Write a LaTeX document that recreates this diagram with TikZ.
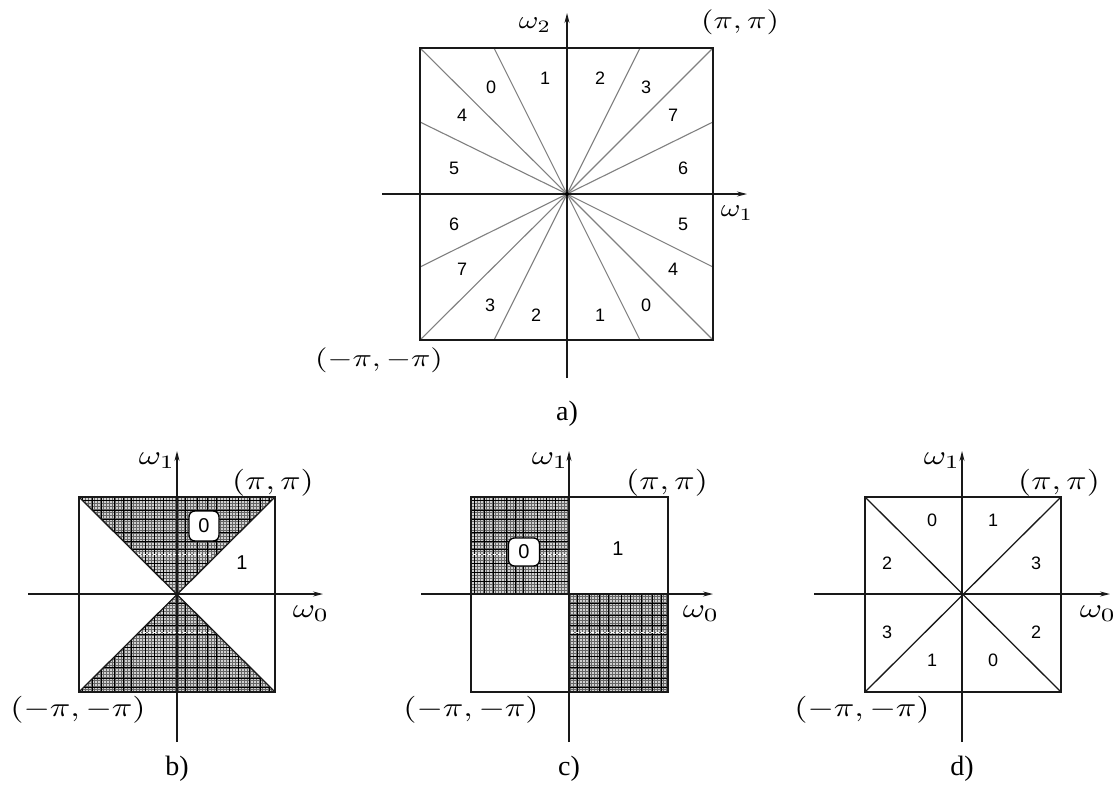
\documentclass[tikz,border=0pt]{standalone}
\usepackage{fontspec}
\setmainfont{Liberation Serif}
\newfontfamily\digfont{Liberation Sans}
\usetikzlibrary{arrows.meta}
\newcommand{\mlab}[3]{\scalebox{#1}[#2]{$#3$}}
\newcommand{\hatchfill}[3]{%
  \begin{scope}
    \clip #1;
    \fill[black!18] (#2,#3) rectangle ++(200,200);
    \foreach \hk in {0,3,...,198}{
      \draw[hatchfine] ({#2+\hk},#3) -- ++(0,200);
      \draw[hatchfine] (#2,{#3+\hk}) -- ++(200,0);
    }
    \foreach \hk in {3,13,22,35,44,52,66,75,84,97,106,118,128,137,150,159,170,181,190}{
      \draw[hatchbold] ({#2+\hk},#3) -- ++(0,200);
      \draw[hatchbold] (#2,{#3+\hk}) -- ++(200,0);
    }
  \end{scope}}
\tikzset{
  hatchfine/.style={draw=black!60,line width=0.55pt},
  hatchbold/.style={draw=black,line width=0.9pt},
  frame/.style={line width=1.5pt,draw=black!90},
  axis/.style={line width=1.3pt,draw=black!90,-{Stealth[length=10pt,width=5pt]}},
  ray/.style={line width=1.1pt,draw=black!50},
  diag/.style={line width=1.3pt,draw=black!90},
  dlab/.style={font=\digfont\fontsize{18}{20}\selectfont,inner sep=0pt},
  dlabb/.style={font=\digfont\fontsize{20}{22}\selectfont,inner sep=0pt},
  mlabel/.style={inner sep=0pt},
  plab/.style={font=\fontsize{28}{30}\selectfont,inner sep=0pt},
  zbox/.style={draw=black,line width=1.3pt,fill=white,rounded corners=6pt,
    minimum width=30pt,minimum height=30pt,inner sep=0pt,font=\digfont\fontsize{20}{22}\selectfont},
  artifact/.style={white,line width=1pt,dash pattern=on 3pt off 2pt}
}
\begin{document}
\begin{tikzpicture}[x=1pt,y=-1pt]
\useasboundingbox (0,0) rectangle (1118,787);
\fill[white] (0,0) rectangle (1118,787);

% ================= panel a =================
\coordinate (aO) at (567,194);
\coordinate (aTL) at (420,48);
\coordinate (aTR) at (713,48);
\coordinate (aBR) at (713,340);
\coordinate (aBL) at (420,340);
\coordinate (aT1) at (494,48);
\coordinate (aT2) at (640,48);
\coordinate (aB1) at (494,340);
\coordinate (aB2) at (640,340);
\coordinate (aL1) at (420,122);
\coordinate (aL2) at (420,267);
\coordinate (aR1) at (713,122);
\coordinate (aR2) at (713,267);
\foreach \p in {aTL,aTR,aBR,aBL,aT1,aT2,aB1,aB2,aL1,aL2,aR1,aR2}
  \draw[ray] (aO) -- (\p);
\draw[frame] (aTL) -- (aTR) -- (aBR) -- (aBL) -- cycle;
\coordinate (aXl) at (382,194);
\coordinate (aXr) at (747,194);
\coordinate (aYb) at (567,378);
\coordinate (aYt) at (567,13);
\draw[axis] (aXl) -- (aXr);
\draw[axis] (aYb) -- (aYt);
\fill[black] (aO) circle (2pt);

\node[mlabel] (aw2) at (535,25) {\mlab{3.0}{2.5}{\omega_2}};
\node[mlabel] (aw1) at (737,213) {\mlab{3.0}{2.5}{\omega_1}};
\node[mlabel] (apipi) at (740,22) {\mlab{3.2}{2.5}{(\pi,\pi)}};
\node[mlabel] (ampi) at (379,360) {\mlab{3.2}{2.5}{(-\pi,-\pi)}};

\node[dlab] (a0t) at (491,87) {0};
\node[dlab] (a1t) at (545,78) {1};
\node[dlab] (a2t) at (600,78) {2};
\node[dlab] (a3t) at (646,87) {3};
\node[dlab] (a4t) at (462,115) {4};
\node[dlab] (a7t) at (673,115) {7};
\node[dlab] (a5l) at (454,168) {5};
\node[dlab] (a6r) at (683,168) {6};
\node[dlab] (a6l) at (454,224) {6};
\node[dlab] (a5r) at (683,224) {5};
\node[dlab] (a7b) at (462,269) {7};
\node[dlab] (a4b) at (673,269) {4};
\node[dlab] (a3b) at (490,305) {3};
\node[dlab] (a2b) at (536,315) {2};
\node[dlab] (a1b) at (600,315) {1};
\node[dlab] (a0b) at (646,305) {0};
\node[plab] (alab) at (567,414) {a)};

% ================= panel b =================
\coordinate (bO) at (177,594);
\coordinate (bTL) at (79,497);
\coordinate (bTR) at (275,497);
\coordinate (bBR) at (275,692);
\coordinate (bBL) at (79,692);
\hatchfill{(bTL) -- (bTR) -- (bO) -- cycle}{79}{497}
\hatchfill{(bBL) -- (bBR) -- (bO) -- cycle}{79}{497}
\draw[artifact] (138,554) -- (213,554);
\draw[artifact] (138,632) -- (213,632);
\draw[diag] (bTL) -- (bBR);
\draw[diag] (bTR) -- (bBL);
\draw[frame] (bTL) -- (bTR) -- (bBR) -- (bBL) -- cycle;
\coordinate (bXl) at (28,594);
\coordinate (bXr) at (323,594);
\coordinate (bYb) at (177,742);
\coordinate (bYt) at (177,451);
\draw[axis] (bXl) -- (bXr);
\draw[axis] (bYb) -- (bYt);
\node[zbox] (b0) at (204,526) {0};
\node[dlabb] (b1) at (242,563) {1};
\node[mlabel] (bw1) at (157,461) {\mlab{3.4}{2.7}{\omega_1}};
\node[mlabel] (bw0) at (311,614) {\mlab{3.4}{2.7}{\omega_0}};
\node[mlabel] (bpipi) at (273,483) {\mlab{3.35}{2.7}{(\pi,\pi)}};
\node[mlabel] (bmpi) at (78,710) {\mlab{3.39}{2.7}{(-\pi,-\pi)}};
\node[plab] (blab) at (177,769) {b)};

% ================= panel c =================
\coordinate (cO) at (569,594);
\coordinate (cTL) at (471,497);
\coordinate (cTR) at (668,497);
\coordinate (cBR) at (668,692);
\coordinate (cBL) at (471,692);
\coordinate (cL) at (471,594);
\coordinate (cR) at (668,594);
\hatchfill{(cTL) rectangle (cO)}{471}{497}
\hatchfill{(cO) rectangle (cBR)}{471}{497}
\draw[artifact] (473,554) -- (567,554);
\draw[artifact] (571,632) -- (666,632);
\draw[frame] (cTL) -- (cTR) -- (cBR) -- (cBL) -- cycle;
\draw[frame] (cL) -- (cR);
\coordinate (cXl) at (421,594);
\coordinate (cXr) at (713,594);
\coordinate (cYb) at (569,742);
\coordinate (cYt) at (569,451);
\draw[axis] (cXl) -- (cXr);
\draw[axis] (cYb) -- (cYt);
\node[zbox,minimum width=31pt,minimum height=28pt] (c0) at (524,552) {0};
\node[dlabb] (c1) at (618,549) {1};
\node[mlabel] (cw1) at (550,461) {\mlab{3.4}{2.7}{\omega_1}};
\node[mlabel] (cw0) at (701,614) {\mlab{3.4}{2.7}{\omega_0}};
\node[mlabel] (cpipi) at (667,483) {\mlab{3.35}{2.7}{(\pi,\pi)}};
\node[mlabel] (cmpi) at (471,710) {\mlab{3.39}{2.7}{(-\pi,-\pi)}};
\node[plab] (clab) at (569,769) {c)};

% ================= panel d =================
\coordinate (dO) at (963,594);
\coordinate (dTL) at (865,497);
\coordinate (dTR) at (1061,497);
\coordinate (dBR) at (1061,692);
\coordinate (dBL) at (865,692);
\draw[diag] (dTL) -- (dBR);
\draw[diag] (dTR) -- (dBL);
\draw[frame] (dTL) -- (dTR) -- (dBR) -- (dBL) -- cycle;
\coordinate (dXl) at (814,594);
\coordinate (dXr) at (1110,594);
\coordinate (dYb) at (962,742);
\coordinate (dYt) at (962,451);
\draw[axis] (dXl) -- (dXr);
\draw[axis] (dYb) -- (dYt);
\node[dlab] (d0t) at (932,520) {0};
\node[dlab] (d1t) at (993,520) {1};
\node[dlab] (d2l) at (887,563) {2};
\node[dlab] (d3r) at (1036,563) {3};
\node[dlab] (d3l) at (887,632) {3};
\node[dlab] (d2r) at (1036,632) {2};
\node[dlab] (d1b) at (932,660) {1};
\node[dlab] (d0b) at (993,660) {0};
\node[mlabel] (dw1) at (942,461) {\mlab{3.4}{2.7}{\omega_1}};
\node[mlabel] (dw0) at (1098,614) {\mlab{3.4}{2.7}{\omega_0}};
\node[mlabel] (dpipi) at (1059,483) {\mlab{3.35}{2.7}{(\pi,\pi)}};
\node[mlabel] (dmpi) at (862,710) {\mlab{3.39}{2.7}{(-\pi,-\pi)}};
\node[plab] (dlab) at (962,769) {d)};
\end{tikzpicture}
\end{document}
